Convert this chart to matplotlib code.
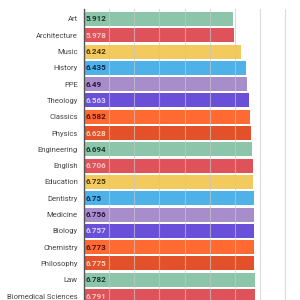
import matplotlib
matplotlib.use('Agg')
import matplotlib.pyplot as plt

subjects = ['Art', 'Architecture', 'Music', 'History', 'PPE', 'Theology', 'Classics', 'Physics',
            'Engineering', 'English', 'Education', 'Dentistry', 'Medicine', 'Biology', 'Chemistry',
            'Philosophy', 'Law', 'Biomedical Sciences']
scores = [5.912, 5.978, 6.242, 6.435, 6.49, 6.563, 6.582, 6.628,
          6.694, 6.706, 6.725, 6.75, 6.756, 6.757, 6.773,
          6.775, 6.782, 6.791]
score_labels = ['5.912', '5.978', '6.242', '6.435', '6.49', '6.563', '6.582', '6.628',
                '6.694', '6.706', '6.725', '6.75', '6.756', '6.757', '6.773',
                '6.775', '6.782', '6.791']

palette = ['#8cc5a9', '#e0525a', '#f2ca5e', '#4eb1e7', '#a88dcb', '#6a4fd8', '#ff6a33', '#e2512a']
text_cols = ['#17382a', '#f7c6c6', '#4a3100', '#0b2a52', '#2b1142', '#ddd5ff', '#5c1200', '#ffd4bd']

plt.rcParams['font.family'] = ['Roboto', 'DejaVu Sans']

fig = plt.figure(figsize=(3, 3), dpi=100)
ax = fig.add_axes([84/300, 0, 216/300, 291/300])

ypos = list(range(len(subjects)))
cols = [palette[i % 8] for i in ypos]
ax.barh(ypos, scores, height=0.86, color=cols, zorder=2)
for i in ypos:
    ax.text(0.07, i, score_labels[i], va='center', ha='left', fontsize=5.8,
            fontweight='bold', color=text_cols[i % 8], zorder=4)

for g in range(1, 9):
    ax.axvline(g, color='#c8c8c8', lw=0.8, alpha=0.65, zorder=3)

ax.set_xlim(0, 216/25.15)
ax.set_ylim(17.24, -0.61)
ax.set_yticks(ypos)
ax.set_yticklabels(subjects, fontsize=5.5, color='#444444')
ax.tick_params(axis='y', length=0, pad=4.5)
ax.set_xticks([])
for s in ['top', 'right', 'bottom']:
    ax.spines[s].set_visible(False)
ax.spines['left'].set_color('#555555')
ax.spines['left'].set_linewidth(1.0)

plt.savefig('out.png', dpi=100)
